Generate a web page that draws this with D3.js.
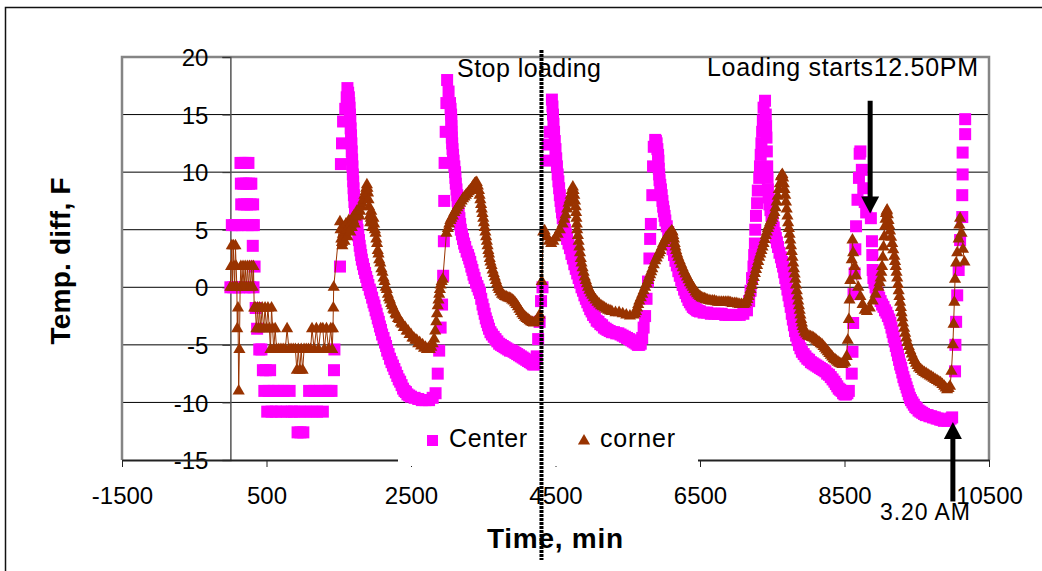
<!DOCTYPE html>
<html>
<head>
<meta charset="utf-8">
<script src="https://cdn.jsdelivr.net/npm/d3@7"></script>
<style>
  body { margin: 0; background: #fff; }
  svg { display: block; }
  text { font-family: "Liberation Sans", Arial, sans-serif; fill: #000; }
</style>
</head>
<body>
<svg id="chart" width="1042" height="571"></svg>
<script>
// Axis ticks
const xTicks = [-1500, 500, 2500, 4500, 6500, 8500, 10500];
const yTicks = [-15, -10, -5, 0, 5, 10, 15, 20];

// Temperature difference (F) at the center of the load, [time (min), value]
const center = [
  [0,0],[20,5.4],[40,0],[60,5.4],[80,0],[100,5.4],[120,0],[140,10.8],[145,9.0],[150,7.2],
  [160,5.4],[170,10.8],[180,9.0],[190,7.2],[200,0],[210,10.8],[220,9.0],[230,7.2],[240,5.4],
  [250,10.8],[260,9.0],[270,0],[280,7.2],[290,9.0],[300,5.4],[310,3.6],[315,7.2],[320,0],
  [325,5.4],[335,1.8],[350,-1.8],[370,-3.6],[400,-5.4],[430,-5.4],[450,-7.2],[470,-9.0],
  [490,-7.2],[510,-10.8],[530,-9.0],[550,-7.2],[570,-10.8],[600,-9.0],[630,-10.8],[660,-9.0],
  [700,-10.8],[740,-9.0],[780,-10.8],[820,-9.0],[850,-10.8],[880,-10.8],[930,-12.6],[960,-10.8],
  [970,-12.6],[1010,-12.6],[1040,-10.8],[1090,-9.0],[1120,-10.8],[1160,-9.0],[1200,-10.8],
  [1240,-9.0],[1280,-10.8],[1320,-9.0],[1360,-9.0],[1400,-9.0],[1434,-7.2],[1440,-5.4],
  [1517,1.8],[1530,10.7],[1545,12.5],[1560,14.4],[1590,15.5],[1610,16.5],[1620,17.3],[1630,16.9],
  [1640,16.5],[1645,16.0],[1650,15.6],[1655,15.0],[1660,14.5],[1665,13.8],[1670,13.2],[1675,12.5],
  [1680,11.8],[1685,11.1],[1690,10.5],[1695,9.8],[1700,9.2],[1705,8.6],[1710,8.0],[1717,7.4],
  [1725,6.9],[1732,6.4],[1740,5.9],[1750,5.4],[1760,5.0],[1770,4.5],[1780,4.1],[1790,3.6],
  [1800,3.2],[1810,2.8],[1820,2.4],[1835,2.0],[1850,1.6],[1865,1.25],[1880,0.9],[1895,0.55],
  [1910,0.2],[1930,-0.2],[1945,-0.5],[1962,-0.9],[1980,-1.3],[1995,-1.6],[2010,-2.0],[2025,-2.3],
  [2040,-2.7],[2055,-3.0],[2070,-3.4],[2085,-3.7],[2100,-4.1],[2120,-4.4],[2140,-4.8],[2155,-5.1],
  [2170,-5.5],[2190,-5.8],[2210,-6.2],[2230,-6.5],[2250,-6.8],[2270,-7.1],[2290,-7.4],[2310,-7.7],
  [2330,-8.0],[2350,-8.2],[2370,-8.5],[2390,-8.8],[2410,-9.0],[2430,-9.1],[2450,-9.3],[2475,-9.4],
  [2500,-9.5],[2550,-9.6],[2600,-9.7],[2650,-9.8],[2700,-9.8],[2750,-9.8],[2800,-9.6],[2840,-9.2],
  [2870,-7.5],[2890,-5.5],[2910,-3.5],[2930,-1.5],[2945,1.0],[2955,4.0],[2960,7.5],[2965,10.8],
  [2980,13.5],[2990,16.0],[3000,18.0],[3020,17.0],[3040,16.0],[3048,15.5],[3055,15.0],[3058,14.5],
  [3060,14.0],[3062,13.5],[3065,13.0],[3070,12.5],[3075,12.0],[3082,11.5],[3090,11.0],[3100,10.5],
  [3110,10.0],[3115,9.5],[3120,9.0],[3130,8.5],[3140,8.0],[3145,7.5],[3150,7.0],[3160,6.5],
  [3170,6.0],[3180,5.5],[3190,5.0],[3205,4.6],[3220,4.2],[3235,3.8],[3250,3.5],[3270,3.1],
  [3290,2.8],[3305,2.5],[3320,2.2],[3335,1.8],[3350,1.5],[3365,1.1],[3380,0.8],[3400,0.4],
  [3420,0.1],[3438,-0.2],[3455,-0.5],[3472,-1.0],[3490,-1.5],[3505,-1.9],[3520,-2.3],[3535,-2.7],
  [3550,-3.0],[3565,-3.3],[3580,-3.6],[3600,-3.9],[3620,-4.1],[3645,-4.3],[3670,-4.5],[3695,-4.7],
  [3720,-4.9],[3745,-5.0],[3770,-5.1],[3795,-5.2],[3820,-5.3],[3845,-5.4],[3870,-5.5],[3895,-5.5],
  [3920,-5.6],[3945,-5.7],[3970,-5.8],[3995,-5.9],[4020,-6.0],[4045,-6.1],[4070,-6.2],[4095,-6.3],
  [4120,-6.4],[4145,-6.5],[4170,-6.6],[4190,-6.7],[4210,-6.7],[4240,-6.0],[4260,-4.5],[4280,-3.0],
  [4300,-1.2],[4320,0.0],
  [4370,11.0],[4390,12.4],[4420,13.5],[4450,16.3],[4458,15.7],[4465,15.0],[4472,14.2],[4480,13.5],
  [4490,12.7],[4500,12.0],[4510,11.2],[4520,10.5],[4530,9.8],[4540,9.2],[4550,8.6],[4560,8.0],
  [4570,7.5],[4580,7.0],[4590,6.5],[4600,6.0],[4615,5.5],[4630,5.0],[4645,4.6],[4660,4.2],
  [4680,3.8],[4700,3.4],[4720,2.9],[4740,2.5],[4760,2.0],[4780,1.6],[4800,1.2],[4820,0.8],
  [4840,0.4],[4860,0.0],[4880,-0.3],[4900,-0.7],[4920,-1.0],[4940,-1.3],[4960,-1.6],[4980,-1.9],
  [5000,-2.1],[5020,-2.4],[5045,-2.6],[5070,-2.9],[5095,-3.0],[5120,-3.2],[5145,-3.3],[5170,-3.5],
  [5195,-3.6],[5220,-3.7],[5250,-3.8],[5280,-3.9],[5310,-3.9],[5340,-4.0],[5370,-4.0],[5400,-4.1],
  [5430,-4.2],[5460,-4.3],[5490,-4.4],[5520,-4.5],[5545,-4.6],[5570,-4.7],[5595,-4.8],[5620,-4.9],
  [5640,-5.0],[5660,-5.0],[5680,-4.9],[5700,-4.4],[5720,-3.5],[5740,-2.5],[5760,-1.0],[5780,0.5],
  [5800,2.5],[5810,4.2],[5820,5.5],[5840,8.0],[5850,10.5],[5860,12.2],[5880,12.8],[5890,12.7],
  [5900,12.5],[5910,12.0],[5920,11.5],[5925,11.0],[5930,10.3],[5935,9.8],[5940,9.3],[5950,8.9],
  [5960,8.5],[5970,8.0],[5980,7.5],[5990,7.0],[6000,6.6],[6010,6.2],[6020,5.8],[6040,5.3],
  [6060,4.8],[6080,4.3],[6100,3.8],[6120,3.3],[6140,2.8],[6160,2.3],[6180,1.9],[6200,1.4],
  [6220,1.0],[6240,0.6],[6260,0.2],[6280,-0.2],[6300,-0.5],[6320,-0.8],[6340,-1.1],[6360,-1.3],
  [6380,-1.5],[6400,-1.7],[6420,-1.8],[6440,-1.9],[6460,-2.0],[6480,-2.05],[6500,-2.1],[6550,-2.2],
  [6600,-2.2],[6650,-2.3],[6700,-2.3],[6750,-2.3],[6800,-2.3],[6850,-2.4],[6900,-2.4],[6950,-2.4],
  [7000,-2.4],[7050,-2.4],[7100,-2.3],[7150,-2.0],
  [7180,-1.2],[7200,-0.3],[7220,0.8],[7240,1.8],[7250,2.8],[7260,3.8],[7265,5.0],[7275,6.2],
  [7290,7.3],[7300,8.4],[7320,9.5],[7330,10.5],[7340,11.5],[7350,12.5],[7360,13.5],[7370,14.5],
  [7380,15.6],[7400,16.2],[7410,15.0],[7415,14.0],[7420,13.0],[7425,11.8],[7430,10.5],[7435,9.5],
  [7440,8.5],[7450,7.8],[7460,7.2],[7475,6.7],[7490,6.2],[7505,5.7],[7520,5.2],[7535,4.7],
  [7550,4.3],[7565,3.9],[7580,3.5],[7600,3.0],[7620,2.6],[7635,2.2],[7650,1.8],[7665,1.3],
  [7680,0.8],[7695,0.3],[7710,-0.2],[7725,-0.7],[7740,-1.2],[7755,-1.7],[7770,-2.3],[7785,-2.8],
  [7800,-3.3],[7815,-3.8],[7830,-4.2],[7850,-4.6],[7870,-5.0],[7890,-5.3],[7910,-5.6],[7935,-5.8],
  [7960,-6.0],[7985,-6.2],[8010,-6.3],[8035,-6.5],[8060,-6.6],[8085,-6.7],[8110,-6.8],[8135,-6.9],
  [8160,-7.0],[8185,-7.1],[8210,-7.2],[8235,-7.3],[8260,-7.5],[8285,-7.6],[8310,-7.8],[8335,-8.0],
  [8360,-8.2],[8380,-8.4],[8400,-8.6],[8420,-8.8],[8440,-8.9],[8460,-9.0],[8480,-9.2],[8500,-9.3],
  [8520,-9.3],[8540,-9.2],[8560,-9.0],[8600,-7.5],[8610,-5.6],[8620,-3.1],[8625,-0.6],[8640,1.2],
  [8650,3.3],[8660,5.3],[8680,7.6],[8700,9.5],[8710,11.6],[8720,11.8],[8740,10.2],[8760,8.6],
  [8780,7.4],[8800,6.5],[8865,6.0],[8880,4.0],[8885,2.8],[8890,1.5],[8900,0.8],[8915,0.4],
  [8930,0.0],[8945,-0.3],[8960,-0.6],[8980,-0.9],[9000,-1.2],[9020,-1.5],[9040,-1.7],[9060,-2.0],
  [9080,-2.2],[9100,-2.5],[9120,-2.8],[9135,-3.1],[9150,-3.5],[9165,-3.9],[9180,-4.3],[9195,-4.7],
  [9210,-5.1],[9225,-5.5],[9240,-5.9],[9255,-6.3],[9270,-6.7],[9285,-7.0],[9300,-7.4],[9315,-7.8],
  [9330,-8.1],[9345,-8.4],[9360,-8.7],[9375,-9.0],[9390,-9.3],[9405,-9.6],[9420,-9.8],[9440,-10.0],
  [9460,-10.2],[9480,-10.4],[9500,-10.5],[9525,-10.7],[9550,-10.8],[9575,-10.9],[9600,-11.0],
  [9625,-11.1],[9650,-11.1],[9675,-11.2],[9700,-11.2],[9725,-11.3],[9750,-11.3],[9775,-11.4],
  [9800,-11.4],[9825,-11.5],[9850,-11.5],[9875,-11.6],[9900,-11.5],[9925,-11.6],[9950,-11.5],
  [9970,-11.4],[9990,-11.3],[10030,-7.3],[10035,-5.0],[10045,-3.0],[10060,-0.7],[10080,1.5],
  [10100,4.1],[10130,6.1],[10130,8.0],[10135,9.8],[10135,11.7],[10170,13.3],[10170,14.6]
];

// Temperature difference (F) at the corner of the load, [time (min), value]
const corner = [
  [0,0],[10,1.8],[20,3.6],[30,0],[40,3.6],[50,1.8],[60,0],[70,3.6],[80,1.8],[90,0],[95,-3.6],
  [105,-1.8],[115,-9.0],[125,-5.4],[135,0],[145,1.8],[160,0],[175,1.8],[190,0],[205,1.8],[220,0],
  [235,1.8],[250,0],[265,1.8],[280,0],[295,1.8],[310,0],[320,1.8],[330,-1.8],[345,-1.8],[360,-3.6],
  [375,-1.8],[390,-3.6],[405,-1.8],[420,-3.6],[440,-1.8],[460,-3.6],[480,-1.8],[500,-3.6],[520,-1.8],
  [540,-3.6],[555,-5.4],[570,-1.8],[585,-3.6],[600,-5.4],[620,-3.6],[640,-5.4],[670,-5.4],[700,-5.4],
  [730,-5.4],[760,-5.4],[785,-3.6],[810,-5.4],[840,-5.4],[870,-5.4],[900,-5.4],[920,-7.2],[940,-5.4],
  [960,-7.2],[980,-5.4],[1000,-7.2],[1020,-5.4],[1050,-5.4],[1080,-5.4],[1110,-5.4],[1130,-3.6],
  [1160,-5.4],[1190,-3.6],[1220,-5.4],[1250,-3.6],[1280,-3.6],[1300,-5.4],[1330,-3.6],[1360,-5.4],
  [1390,-3.6],[1410,-5.4],[1420,-3.6],[1425,-1.8],[1430,0],
  [1517,5.7],[1525,5.0],[1535,4.2],[1545,3.9],[1550,3.6],[1557,4.6],[1565,5.2],[1572,4.5],[1580,4.0],
  [1590,4.8],[1600,5.5],[1610,5.0],[1620,4.4],[1630,5.1],[1640,5.8],[1650,5.3],[1660,4.8],[1670,5.5],
  [1680,5.2],[1690,6.0],[1700,5.8],[1710,6.2],[1720,5.5],[1735,6.1],[1750,6.6],[1765,6.4],[1780,6.2],
  [1795,6.6],[1810,7.0],[1825,7.3],[1840,7.6],[1855,8.0],[1870,8.3],[1880,8.6],[1890,8.9],[1897,8.6],
  [1905,8.2],[1912,7.6],[1920,7.0],[1928,6.2],[1935,5.6],[1942,6.0],[1950,6.6],[1958,5.9],[1965,5.2],
  [1972,5.6],[1980,6.0],[1990,5.5],[2000,5.0],[2010,4.7],[2020,4.2],[2030,3.8],[2040,3.2],[2050,2.9],
  [2060,2.4],[2075,2.1],[2090,1.6],[2105,1.3],[2120,0.8],[2135,0.5],[2150,0.0],[2165,-0.2],[2180,-0.6],
  [2195,-0.9],[2210,-1.1],[2225,-1.4],[2240,-1.6],[2255,-1.9],[2270,-2.0],[2285,-2.3],[2300,-2.4],
  [2320,-2.7],[2340,-2.8],[2360,-3.1],[2380,-3.2],[2400,-3.5],[2420,-3.5],[2440,-3.8],[2460,-3.8],
  [2480,-4.1],[2500,-4.1],[2520,-4.4],[2540,-4.4],[2560,-4.6],[2580,-4.6],[2600,-4.9],[2620,-4.8],
  [2640,-5.1],[2660,-5.0],[2680,-5.3],[2700,-5.2],[2720,-5.4],[2740,-5.3],[2760,-5.4],[2780,-5.2],
  [2800,-4.9],[2820,-4.5],[2835,-3.8],[2850,-3.0],[2860,-2.3],[2870,-1.6],[2880,-1.1],[2890,-0.6],
  [2900,-0.2],[2910,0.2],[2925,0.5],[2940,0.7],[2990,4.7],[3010,5.1],[3030,5.5],[3045,5.8],[3060,6.0],
  [3080,6.2],[3100,6.5],[3120,6.7],[3140,6.9],[3160,7.1],[3180,7.3],[3200,7.5],[3220,7.7],[3240,7.85],
  [3260,8.0],[3280,8.15],[3300,8.3],[3320,8.45],[3340,8.6],[3360,8.8],[3380,9.0],[3395,9.05],[3410,9.1],
  [3425,8.8],[3440,8.4],[3450,8.0],[3460,7.6],[3470,7.2],[3480,6.8],[3490,6.4],[3500,6.0],[3510,5.6],
  [3520,5.2],[3530,4.8],[3540,4.4],[3550,4.0],[3560,3.6],[3570,3.2],[3580,2.9],[3590,2.5],[3600,2.2],
  [3615,1.9],[3630,1.5],[3645,1.2],[3660,0.9],[3675,0.6],[3690,0.3],[3705,0.0],[3720,-0.2],[3740,-0.4],
  [3760,-0.6],[3780,-0.7],[3800,-0.8],[3820,-0.85],[3840,-0.9],[3860,-0.95],[3880,-1.0],[3900,-1.1],
  [3920,-1.2],[3940,-1.35],[3960,-1.5],[3980,-1.7],[4000,-1.9],[4020,-2.1],[4040,-2.3],[4060,-2.45],
  [4080,-2.6],[4100,-2.7],[4120,-2.8],[4140,-2.9],[4160,-3.0],[4180,-3.05],[4200,-3.1],[4220,-3.0],
  [4240,-2.9],[4260,-2.7],[4280,-2.4],[4310,0.5],[4330,4.8],
  [4350,4.9],[4380,4.4],[4410,4.0],[4440,3.8],[4470,4.0],[4500,4.3],[4530,4.6],[4560,5.0],[4600,5.5],
  [4620,5.9],[4640,6.3],[4660,6.8],[4680,7.3],[4695,7.6],[4710,8.0],[4725,8.4],[4740,8.7],[4750,8.4],
  [4760,8.0],[4770,7.5],[4780,7.0],[4785,6.5],[4790,6.0],[4795,5.5],[4800,5.0],[4810,4.5],[4820,4.0],
  [4830,3.5],[4840,3.0],[4850,2.5],[4860,2.1],[4875,1.7],[4890,1.3],[4905,0.9],[4920,0.6],[4935,0.3],
  [4950,0.0],[4970,-0.25],[4990,-0.5],[5010,-0.7],[5030,-0.9],[5055,-1.1],[5080,-1.3],[5105,-1.45],
  [5130,-1.6],[5155,-1.7],[5180,-1.8],[5205,-1.9],[5230,-2.0],[5255,-2.05],[5280,-2.1],[5330,-2.2],
  [5380,-2.2],[5430,-2.3],[5480,-2.4],[5530,-2.5],[5580,-2.4],[5600,-2.3],[5615,-2.1],[5630,-1.8],
  [5645,-1.5],[5660,-1.2],[5680,-0.9],[5700,-0.6],[5720,-0.3],[5740,0.0],[5760,0.3],[5780,0.6],
  [5795,0.85],[5810,1.1],[5825,1.35],[5840,1.6],[5860,1.95],[5880,2.3],[5900,2.55],[5920,2.8],
  [5935,3.0],[5950,3.2],[5970,3.5],[5990,3.8],[6010,4.05],[6030,4.3],[6050,4.45],[6070,4.6],
  [6090,4.75],[6110,4.9],[6120,4.8],[6130,4.5],[6140,4.2],[6150,3.8],[6160,3.5],[6170,3.2],[6185,2.9],
  [6200,2.6],[6220,2.3],[6240,2.0],[6260,1.7],[6280,1.4],[6300,1.15],[6320,0.9],[6340,0.65],[6360,0.4],
  [6380,0.2],[6400,0.0],[6420,-0.2],[6440,-0.4],[6460,-0.55],[6480,-0.7],[6500,-0.8],[6520,-0.9],
  [6540,-0.95],[6560,-1.0],[6580,-1.05],[6600,-1.1],[6625,-1.15],[6650,-1.2],[6675,-1.2],[6700,-1.2],
  [6725,-1.25],[6750,-1.3],[6775,-1.3],[6800,-1.3],[6825,-1.3],[6850,-1.3],[6875,-1.3],[6900,-1.3],
  [6925,-1.35],[6950,-1.4],[6975,-1.4],[7000,-1.4],[7025,-1.45],[7050,-1.5],[7075,-1.5],[7100,-1.5],
  [7120,-1.45],[7140,-1.3],[7155,-1.05],[7170,-0.8],[7185,-0.5],[7200,-0.2],[7215,0.15],[7230,0.5],
  [7245,0.85],[7260,1.2],[7275,1.55],[7290,1.9],[7305,2.25],[7320,2.6],[7335,2.9],[7350,3.2],
  [7365,3.5],[7380,3.8],[7395,4.15],[7410,4.5],[7425,4.8],[7440,5.1],[7455,5.35],[7470,5.6],[7485,5.8],
  [7500,6.0],[7515,6.25],[7530,6.5],[7545,6.9],[7560,7.4],[7575,7.9],[7590,8.5],[7605,9.0],[7620,9.6],
  [7630,9.7],[7640,9.8],[7650,9.5],[7660,9.0],[7670,8.5],[7680,8.0],[7690,7.4],[7700,6.8],[7710,6.2],
  [7720,5.6],[7730,5.1],[7740,4.6],[7750,4.1],[7760,3.6],[7770,3.1],[7780,2.6],[7790,2.1],[7800,1.6],
  [7810,1.15],[7820,0.7],[7830,0.2],[7840,-0.3],[7850,-0.75],[7860,-1.2],[7870,-1.6],[7880,-2.0],
  [7890,-2.4],[7900,-2.8],[7910,-3.1],[7920,-3.4],[7935,-3.65],[7950,-3.9],[7970,-4.05],[7990,-4.2],
  [8010,-4.25],[8030,-4.3],[8050,-4.35],[8070,-4.4],[8090,-4.5],[8110,-4.6],[8130,-4.7],[8150,-4.8],
  [8170,-4.9],[8190,-5.0],[8210,-5.15],[8230,-5.3],[8250,-5.45],[8270,-5.6],[8290,-5.75],[8310,-5.9],
  [8330,-6.05],[8350,-6.2],[8370,-6.3],[8390,-6.4],[8410,-6.5],[8430,-6.6],[8450,-6.65],[8470,-6.7],
  [8490,-6.6],[8510,-6.5],[8530,-6.0],[8545,-4.6],[8560,-2.8],[8570,-1.1],[8580,0.6],[8600,2.4],
  [8610,4.1],[8620,3.0],[8640,1.8],[8660,1.0],[8690,0.0],[8720,-0.8],[8750,-1.5],[8780,-2.0],
  [8810,-2.1],[8850,-1.8],[8890,-1.2],[8930,-0.6],[8970,0.0],[8985,0.4],[9000,0.8],[9010,1.3],
  [9020,1.8],[9030,2.6],[9040,3.5],[9050,4.4],[9060,5.3],[9068,5.9],[9075,6.4],[9083,6.6],[9090,6.7],
  [9100,6.3],[9110,5.8],[9120,5.35],[9130,4.9],[9145,4.35],[9160,3.8],[9175,3.25],[9190,2.7],
  [9200,2.25],[9210,1.8],[9220,1.3],[9230,0.8],[9240,0.25],[9250,-0.3],[9260,-0.8],[9270,-1.3],
  [9280,-1.75],[9290,-2.2],[9300,-2.65],[9310,-3.1],[9325,-3.55],[9340,-4.0],[9355,-4.4],[9370,-4.8],
  [9390,-5.15],[9410,-5.5],[9430,-5.8],[9450,-6.1],[9470,-6.35],[9490,-6.6],[9510,-6.8],[9530,-7.0],
  [9555,-7.15],[9580,-7.3],[9605,-7.4],[9630,-7.5],[9655,-7.6],[9680,-7.7],[9705,-7.8],[9730,-7.9],
  [9755,-8.0],[9780,-8.1],[9805,-8.2],[9830,-8.3],[9855,-8.45],[9880,-8.6],[9900,-8.75],[9920,-8.9],
  [9940,-8.8],[9960,-8.6],[9980,-7.3],[10000,-5.0],[10010,-3.2],[10020,-1.3],[10030,0.7],[10045,2.1],
  [10060,3.0],[10080,4.2],[10090,5.4],[10100,6.0],[10120,4.7],[10140,3.3],[10160,2.2]
];

// Events marked on the chart
const stopLoadingTime = 4306;           // vertical dotted marker
const loadingStartArrow = { t: 8855, from: 16.2, to: 6.4 };
const lowPointArrow = { t: 10000, from: -18.6, to: -11.7 };

const colors = { center: "#ff00ff", corner: "#993300" };
const fmt = d => String(d);   // plain hyphen-minus labels

const svg = d3.select("#chart");
const W = 1042, H = 571;
svg.append("rect").attr("width", W).attr("height", H).attr("fill", "#fff");

// chart frame
svg.append("rect")
  .attr("x", 5.5).attr("y", 7.5).attr("width", W + 20).attr("height", H + 20)
  .attr("fill", "none").attr("stroke", "#111").attr("stroke-width", 1.5);

const x = d3.scaleLinear().domain([-1500, 10500]).range([122, 989]);
const y = d3.scaleLinear().domain([-15, 20]).range([460, 57]);

// horizontal gridlines
svg.append("g").selectAll("line")
  .data(yTicks.filter(v => v > -15 && v < 20))
  .join("line")
  .attr("x1", x(-1500)).attr("x2", x(10500))
  .attr("y1", d => y(d)).attr("y2", d => y(d))
  .attr("stroke", "#000").attr("stroke-width", 1);

// plot area border (top, left, right)
svg.append("path")
  .attr("d", `M${x(-1500)},${y(-15)}V${y(20)}H${x(10500)}V${y(-15)}`)
  .attr("fill", "none").attr("stroke", "#858585").attr("stroke-width", 2.5);

// value axis crossing at time 0
const yAxis = d3.axisLeft(y).tickValues(yTicks).tickSize(8).tickPadding(14).tickFormat(fmt);
const gy = svg.append("g").attr("transform", `translate(${x(0)},0)`).call(yAxis);
gy.select(".domain").attr("stroke", "#555").attr("stroke-width", 1.5);
gy.selectAll(".tick line").attr("stroke", "#333");
gy.selectAll(".tick text")
  .attr("font-size", 24).attr("fill", "#000")
  .attr("font-family", "'Liberation Sans', Arial, sans-serif")
  .attr("dy", "0.36em");

// time axis along the bottom
const xAxis = d3.axisBottom(x).tickValues(xTicks).tickSize(7).tickSizeOuter(0).tickPadding(20)
  .tickFormat(fmt);
const gx = svg.append("g").attr("transform", `translate(0,${y(-15)})`).call(xAxis);
gx.select(".domain").attr("stroke", "#222").attr("stroke-width", 2);
gx.selectAll(".tick line").attr("stroke", "#222");
gx.selectAll(".tick text")
  .attr("font-size", 24).attr("fill", "#000")
  .attr("font-family", "'Liberation Sans', Arial, sans-serif");

// center series: square markers
const sq = 12;
svg.append("g").selectAll("rect")
  .data(center)
  .join("rect")
  .attr("x", d => x(d[0]) - sq / 2).attr("y", d => y(d[1]) - sq / 2)
  .attr("width", sq).attr("height", sq)
  .attr("fill", colors.center);

// corner series: thin connecting line + triangle markers
svg.append("path")
  .datum(corner)
  .attr("d", d3.line().x(d => x(d[0])).y(d => y(d[1])))
  .attr("fill", "none").attr("stroke", colors.corner).attr("stroke-width", 1);

const tri = d3.symbol().type(d3.symbolTriangle).size(64);
svg.append("g").selectAll("path")
  .data(corner)
  .join("path")
  .attr("transform", d => `translate(${x(d[0])},${y(d[1])})`)
  .attr("d", tri)
  .attr("fill", colors.corner);

// legend (white box over the lower part of the plot)
svg.append("rect").attr("x", 398).attr("y", 418).attr("width", 300).attr("height", 48)
  .attr("fill", "#fff");
svg.append("rect").attr("x", 427).attr("y", 435).attr("width", 11).attr("height", 11)
  .attr("fill", colors.center);
svg.append("text").attr("x", 449).attr("y", 447).attr("font-size", 25)
  .attr("textLength", 78).attr("lengthAdjust", "spacing").text("Center");
svg.append("path").attr("transform", "translate(584,441)").attr("d", tri)
  .attr("fill", colors.corner);
svg.append("text").attr("x", 600).attr("y", 447).attr("font-size", 25)
  .attr("textLength", 75).attr("lengthAdjust", "spacing").text("corner");

// axis titles
svg.append("text")
  .attr("transform", "translate(70,261) rotate(-90)")
  .attr("text-anchor", "middle").attr("font-size", 28).attr("font-weight", "bold")
  .attr("textLength", 167).attr("lengthAdjust", "spacing")
  .text("Temp. diff, F");
svg.append("text").attr("x", 487).attr("y", 548)
  .attr("font-size", 28).attr("font-weight", "bold")
  .attr("textLength", 136).attr("lengthAdjust", "spacing")
  .text("Time, min");

// annotations
svg.append("text").attr("x", 457).attr("y", 77).attr("font-size", 25)
  .attr("textLength", 144).attr("lengthAdjust", "spacing").text("Stop loading");
svg.append("text").attr("x", 707).attr("y", 76).attr("font-size", 25)
  .attr("textLength", 271).attr("lengthAdjust", "spacing").text("Loading starts12.50PM");
svg.append("text").attr("x", 880).attr("y", 520).attr("font-size", 23)
  .attr("textLength", 90).attr("lengthAdjust", "spacing").text("3.20 AM");

function arrow(a) {
  const ax = x(a.t), y0 = y(a.from), y1 = y(a.to);
  const dir = y1 > y0 ? 1 : -1;
  const headLen = 17, headHalf = 9;
  svg.append("line")
    .attr("x1", ax).attr("x2", ax).attr("y1", y0).attr("y2", y1 - dir * headLen + dir * 2)
    .attr("stroke", "#000").attr("stroke-width", 5);
  svg.append("path")
    .attr("d", `M${ax - headHalf},${y1 - dir * headLen}L${ax + headHalf},${y1 - dir * headLen}L${ax},${y1}Z`)
    .attr("fill", "#000");
}
arrow(loadingStartArrow);
arrow(lowPointArrow);

// dotted marker where loading stopped
svg.append("line")
  .attr("x1", x(stopLoadingTime)).attr("x2", x(stopLoadingTime))
  .attr("y1", 50).attr("y2", 560)
  .attr("stroke", "#000").attr("stroke-width", 4)
  .attr("stroke-dasharray", "3 1");
</script>
</body>
</html>
